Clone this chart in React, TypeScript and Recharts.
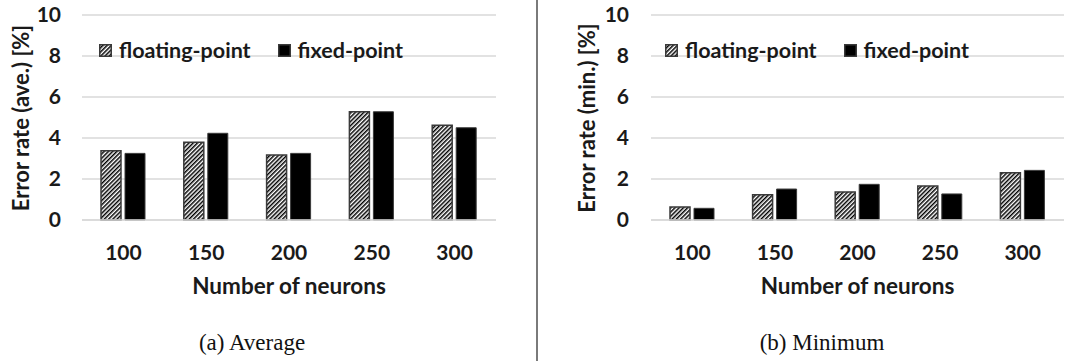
import React from 'react';
import {
  BarChart,
  Bar,
  XAxis,
  YAxis,
  CartesianGrid,
  Legend,
} from 'recharts';

// number of neurons on the x axis
const neurons = ['100', '150', '200', '250', '300'];

// (a) average error rate [%]
const aveFloating = [3.38, 3.79, 3.17, 5.28, 4.62];
const aveFixed = [3.25, 4.23, 3.25, 5.28, 4.5];

// (b) minimum error rate [%]
const minFloating = [0.63, 1.23, 1.37, 1.66, 2.31];
const minFixed = [0.57, 1.51, 1.74, 1.27, 2.42];

const yTicks = [0, 2, 4, 6, 8, 10];
const seriesOrder = ['floating', 'fixed'];

const FONT = 'Lato, "Open Sans", sans-serif';
const TEXT = '#1a1a1a';
const GRID = '#d9d9d9';
const EDGE = '#3a3a3a';

function buildRows(floating: number[], fixed: number[]) {
  return neurons.map((n, i) => ({ n, floating: floating[i], fixed: fixed[i] }));
}

function XTitle(props: any) {
  const vb = props.viewBox || {};
  return (
    <text
      x={vb.x + vb.width / 2}
      y={285}
      textAnchor="middle"
      dominantBaseline="central"
      fill={TEXT}
      style={{ fontFamily: FONT, fontSize: 22.5, fontWeight: 700 }}
    >
      {props.text}
    </text>
  );
}

function YTitle(props: any) {
  const x = props.cx;
  const y = 118;
  return (
    <text
      x={x}
      y={y}
      transform={`rotate(-90 ${x} ${y})`}
      textAnchor="middle"
      dominantBaseline="central"
      fill={TEXT}
      style={{ fontFamily: FONT, fontSize: 22, fontWeight: 700 }}
    >
      {props.text}
    </text>
  );
}

function Swatch({ hatched, id }: { hatched: boolean; id: string }) {
  return (
    <svg width={13} height={13} style={{ display: 'block' }}>
      {hatched && (
        <defs>
          <pattern id={id} patternUnits="userSpaceOnUse" width={3} height={3} patternTransform="rotate(45)">
            <rect width={3} height={3} fill="#fff" />
            <rect width={1.5} height={3} fill="#000" />
          </pattern>
        </defs>
      )}
      <rect
        x={0.75}
        y={0.75}
        width={11.5}
        height={11.5}
        fill={hatched ? `url(#${id})` : '#000'}
        stroke={EDGE}
        strokeWidth={1.5}
      />
    </svg>
  );
}

function LegendBox(props: any) {
  const items = [...(props.payload || [])].sort(
    (a: any, b: any) => seriesOrder.indexOf(a.dataKey) - seriesOrder.indexOf(b.dataKey)
  );
  return (
    <div style={{ display: 'flex', alignItems: 'center', fontFamily: FONT, fontSize: 21.5, fontWeight: 700, color: TEXT }}>
      {items.map((it: any, i: number) => (
        <div key={it.value} style={{ display: 'flex', alignItems: 'center', marginRight: i === 0 ? 27 : 0 }}>
          <Swatch hatched={it.dataKey === 'floating'} id={`lg-${props.pid}-${i}`} />
          <span style={{ marginLeft: 7, lineHeight: '22px' }}>{it.value}</span>
        </div>
      ))}
    </div>
  );
}

type PanelProps = {
  pid: string;
  rows: { n: string; floating: number; fixed: number }[];
  yTitle: string;
  width: number;
  axisWidth: number;
  tickGap: number;
  titleX: number;
  marginRight: number;
  legendLeft: number;
};

function Panel(p: PanelProps) {
  return (
    <BarChart
      width={p.width}
      height={300}
      data={p.rows}
      margin={{ top: 15, right: p.marginRight, bottom: 0, left: 0 }}
      barSize={20}
      barGap={4}
    >
      <defs>
        <pattern id={`hatch-${p.pid}`} patternUnits="userSpaceOnUse" width={3} height={3} patternTransform="rotate(45)">
          <rect width={3} height={3} fill="#fff" />
          <rect width={1.5} height={3} fill="#000" />
        </pattern>
      </defs>
      <CartesianGrid vertical={false} stroke={GRID} strokeWidth={1.3} />
      <XAxis
        dataKey="n"
        height={80}
        tickLine={false}
        tickSize={0}
        tickMargin={25}
        axisLine={{ stroke: GRID, strokeWidth: 1.3 }}
        tick={{ fill: TEXT, fontSize: 21, fontWeight: 700, fontFamily: FONT }}
        label={<XTitle text="Number of neurons" />}
      />
      <YAxis
        domain={[0, 10]}
        ticks={yTicks}
        width={p.axisWidth}
        axisLine={false}
        tickLine={false}
        tickSize={0}
        tickMargin={p.tickGap}
        tick={{ fill: TEXT, fontSize: 21, fontWeight: 700, fontFamily: FONT }}
        label={<YTitle text={p.yTitle} cx={p.titleX} />}
      />
      <Legend
        layout="horizontal"
        verticalAlign="middle"
        align="center"
        wrapperStyle={{ top: 39, left: p.legendLeft, width: 'auto' }}
        content={(lp: any) => <LegendBox {...lp} pid={p.pid} />}
      />
      <Bar
        dataKey="floating"
        name="floating-point"
        fill={`url(#hatch-${p.pid})`}
        stroke={EDGE}
        strokeWidth={1.5}
        isAnimationActive={false}
      />
      <Bar
        dataKey="fixed"
        name="fixed-point"
        fill="#000"
        stroke={EDGE}
        strokeWidth={1}
        isAnimationActive={false}
      />
    </BarChart>
  );
}

const captionStyle: React.CSSProperties = {
  position: 'absolute',
  top: 329,
  fontFamily: '"Liberation Serif", "Times New Roman", serif',
  fontSize: 23,
  lineHeight: '28px',
  color: '#111',
  whiteSpace: 'nowrap',
  transform: 'translateX(-50%)',
};

export default function App() {
  return (
    <div style={{ position: 'absolute', left: 0, top: 0, width: 1067, height: 361, background: '#fff', overflow: 'hidden' }}>
      <div style={{ position: 'absolute', left: 0, top: 0 }}>
        <Panel
          pid="a"
          rows={buildRows(aveFloating, aveFixed)}
          yTitle="Error rate (ave.) [%]"
          width={533}
          axisWidth={82}
          tickGap={21}
          titleX={20}
          marginRight={37}
          legendLeft={99}
        />
      </div>
      <div style={{ position: 'absolute', left: 536, top: 0, width: 2, height: 361, background: '#7a7a7a' }} />
      <div style={{ position: 'absolute', left: 538, top: 0 }}>
        <Panel
          pid="b"
          rows={buildRows(minFloating, minFixed)}
          yTitle="Error rate (min.) [%]"
          width={529}
          axisWidth={113}
          tickGap={22}
          titleX={48}
          marginRight={3}
          legendLeft={127}
        />
      </div>
      <div style={{ ...captionStyle, left: 252 }}>(a) Average</div>
      <div style={{ ...captionStyle, left: 822 }}>(b) Minimum</div>
    </div>
  );
}
